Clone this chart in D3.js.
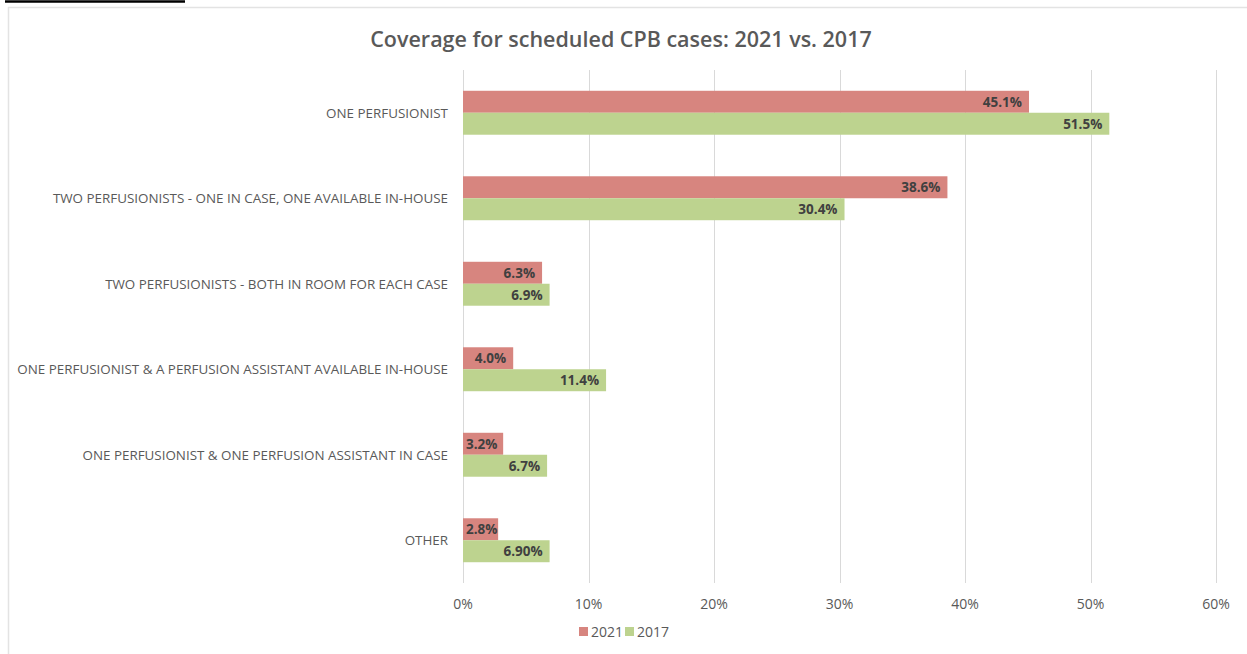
<!DOCTYPE html>
<html>
<head>
  <title>Coverage for scheduled CPB cases</title>
  <style>
    body { margin: 0; background: #fff; }
    text { font-family: "Open Sans", sans-serif; }
    .grid line { stroke: #d9d9d9; stroke-width: 1px; }
    .cat { fill: #595959; font-size: 13.4px; }
    .tick-label { fill: #595959; font-size: 14px; }
    .val { fill: #404040; font-size: 13.5px; font-weight: 700; }
  </style>
</head>
<body>
  <svg id="chart"></svg>

  <script src="https://d3js.org/d3.v7.min.js"></script>
  <script>
    // chart data
    var categories = [
      "ONE PERFUSIONIST",
      "TWO PERFUSIONISTS - ONE IN CASE, ONE AVAILABLE IN-HOUSE",
      "TWO PERFUSIONISTS - BOTH IN ROOM FOR EACH CASE",
      "ONE PERFUSIONIST & A PERFUSION ASSISTANT AVAILABLE IN-HOUSE",
      "ONE PERFUSIONIST & ONE PERFUSION ASSISTANT IN CASE",
      "OTHER"
    ];
    var values2021 = [45.1, 38.6, 6.3, 4.0, 3.2, 2.8];
    var values2017 = [51.5, 30.4, 6.9, 11.4, 6.7, 6.9];
    var labels2021 = ["45.1%", "38.6%", "6.3%", "4.0%", "3.2%", "2.8%"];
    var labels2017 = ["51.5%", "30.4%", "6.9%", "11.4%", "6.7%", "6.90%"];
    var ticks = [0, 10, 20, 30, 40, 50, 60];
    var seriesNames = ["2021", "2017"];
    var colors = ["#d7857f", "#bdd38f"];

    var width = 1247;
    var height = 654;
    var svg = d3.select("#chart")
      .attr("width", width)
      .attr("height", height);

    // frame bits from the cropped page
    svg.append("line").attr("x1", 5).attr("x2", 185).attr("y1", 1.5).attr("y2", 1.5)
      .attr("stroke", "#000").attr("stroke-width", 2.5);
    svg.append("path").attr("d", "M8.5,654 V7.5 H1247")
      .attr("fill", "none").attr("stroke", "#e3e3e3").attr("stroke-width", 1.5);

    var plotLeft = 463, plotRight = 1216, plotTop = 70, plotBottom = 583;

    var x = d3.scaleLinear().domain([0, 60]).range([plotLeft, plotRight]);
    var y = d3.scaleBand().domain(categories).range([plotTop, plotBottom]).paddingInner(0.486).paddingOuter(0.243);
    var sub = d3.scaleBand().domain(seriesNames).range([0, y.bandwidth()]);

    // title
    svg.append("text")
      .attr("x", 621).attr("y", 47)
      .attr("text-anchor", "middle")
      .attr("fill", "#595959")
      .style("font-size", "21.5px").style("font-weight", "600")
      .text("Coverage for scheduled CPB cases: 2021 vs. 2017");

    // gridlines
    svg.append("g").attr("class", "grid")
      .selectAll("line").data(ticks).enter().append("line")
      .attr("x1", function(d) { return Math.round(x(d)) + 0.5; })
      .attr("x2", function(d) { return Math.round(x(d)) + 0.5; })
      .attr("y1", plotTop).attr("y2", plotBottom);

    // tick labels
    svg.append("g").selectAll("text").data(ticks).enter().append("text")
      .attr("class", "tick-label")
      .attr("x", function(d) { return x(d); })
      .attr("y", 609)
      .attr("text-anchor", "middle")
      .text(function(d) { return d + "%"; });

    // category labels
    svg.append("g").selectAll("text").data(categories).enter().append("text")
      .attr("class", "cat")
      .attr("x", 448)
      .attr("y", function(d) { return y(d) + y.bandwidth() / 2 + 5; })
      .attr("text-anchor", "end")
      .text(function(d) { return d; });

    var series = [
      { name: "2021", values: values2021, labels: labels2021, color: colors[0] },
      { name: "2017", values: values2017, labels: labels2017, color: colors[1] }
    ];

    series.forEach(function(s) {
      var g = svg.append("g");
      g.selectAll("rect").data(categories).enter().append("rect")
        .attr("x", x(0))
        .attr("y", function(d) { return y(d) + sub(s.name); })
        .attr("width", function(d, i) { return x(s.values[i]) - x(0); })
        .attr("height", sub.bandwidth())
        .attr("fill", s.color);
      g.selectAll("text").data(categories).enter().append("text")
        .attr("class", "val")
        .attr("x", function(d, i) { return x(s.values[i]) - 7; })
        .attr("y", function(d) { return y(d) + sub(s.name) + sub.bandwidth() / 2 + 5; })
        .attr("text-anchor", "end")
        .text(function(d, i) { return s.labels[i]; })
        .each(function(d, i) {
          // keep short-bar labels inside the plot
          var w = this.getComputedTextLength();
          var end = x(s.values[i]) - 7;
          if (end - w < plotLeft + 3) {
            d3.select(this).attr("x", Math.max(end, plotLeft + 3 + w));
          }
        });
    });

    // legend
    var legend = svg.append("g").selectAll("g").data(series).enter().append("g")
      .attr("transform", function(d, i) { return "translate(" + (579 + i * 46) + ",0)"; });
    legend.append("rect").attr("x", 0).attr("y", 627).attr("width", 9).attr("height", 9)
      .attr("fill", function(d) { return d.color; });
    legend.append("text").attr("class", "tick-label")
      .attr("x", 12).attr("y", 637)
      .text(function(d) { return d.name; });
  </script>
</body>
</html>
